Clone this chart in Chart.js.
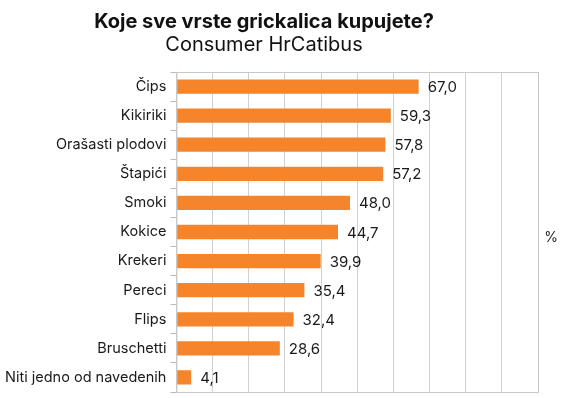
<!DOCTYPE html>
<html>
<head>
<meta charset="utf-8">
<script src="https://cdn.jsdelivr.net/npm/chart.js@4"></script>
<style>
  html, body { margin: 0; padding: 0; background: #fff; }
  #wrap { width: 561px; height: 398px; }
</style>
</head>
<body>
<div id="wrap"><canvas id="myChart"></canvas></div>
<script>
const categories = ["Čips", "Kikiriki", "Orašasti plodovi", "Štapići", "Smoki", "Kokice", "Krekeri", "Pereci", "Flips", "Bruschetti", "Niti jedno od navedenih"];
const values = [67.0, 59.3, 57.8, 57.2, 48.0, 44.7, 39.9, 35.4, 32.4, 28.6, 4.1];
const titleText = "Koje sve vrste grickalica kupujete?";
const subtitleText = "Consumer HrCatibus";
const unitText = "%";

// titles, value labels, plot border and the % sign
const extras = {
    id: "extras",
    afterDatasetsDraw(chart) {
        const ctx = chart.ctx;
        const area = chart.chartArea;
        ctx.save();
        ctx.strokeStyle = "#c8c8c8";
        ctx.lineWidth = 1;
        ctx.strokeRect(area.left + 0.5, area.top + 0.5, area.right - area.left, area.bottom - area.top);

        ctx.fillStyle = "#111";
        ctx.textAlign = "center";
        ctx.textBaseline = "alphabetic";
        ctx.font = "bold 20px Inter";
        ctx.fillText(titleText, 264, 28);
        ctx.font = "20px Inter";
        ctx.fillText(subtitleText, 264, 51);

        ctx.font = "15px Inter";
        ctx.fillStyle = "#1a1a1a";
        ctx.textAlign = "left";
        ctx.textBaseline = "middle";
        chart.getDatasetMeta(0).data.forEach((bar, i) => {
            ctx.fillText(values[i].toFixed(1).replace(".", ","), bar.x + 9, bar.y + 1);
        });
        ctx.font = "14px Inter";
        ctx.textAlign = "center";
        ctx.fillText(unitText, 551, (area.top + area.bottom) / 2 + 6);
        ctx.restore();
    }
};

const ctx = document.getElementById("myChart").getContext("2d");
new Chart(ctx, {
    type: "bar",
    data: {
        labels: categories,
        datasets: [{
            data: values,
            backgroundColor: "#f5842a",
            barPercentage: 0.49,
            categoryPercentage: 1.0
        }]
    },
    options: {
        indexAxis: "y",
        responsive: true,
        maintainAspectRatio: false,
        animation: false,
        layout: { padding: { left: 1, right: 23, bottom: 6, top: 72 } },
        plugins: {
            legend: { display: false },
            tooltip: { enabled: false },
            title: { display: false }
        },
        scales: {
            x: {
                min: 0,
                max: 100,
                ticks: { display: false, stepSize: 10 },
                grid: { color: "#d0d0d0", drawTicks: false },
                border: { display: false },
                afterFit(scale) { scale.height = 0; scale.paddingTop = 0; scale.paddingBottom = 0; }
            },
            y: {
                ticks: { color: "#1a1a1a", font: { family: "Inter", size: 14.5 }, padding: 4 },
                grid: { drawOnChartArea: false, tickLength: 6, color: "#bbbbbb" },
                border: { display: true, color: "#c8c8c8" },
                afterFit(scale) { scale.paddingTop = 0; scale.paddingBottom = 0; }
            }
        }
    },
    plugins: [extras]
});
</script>
</body>
</html>
